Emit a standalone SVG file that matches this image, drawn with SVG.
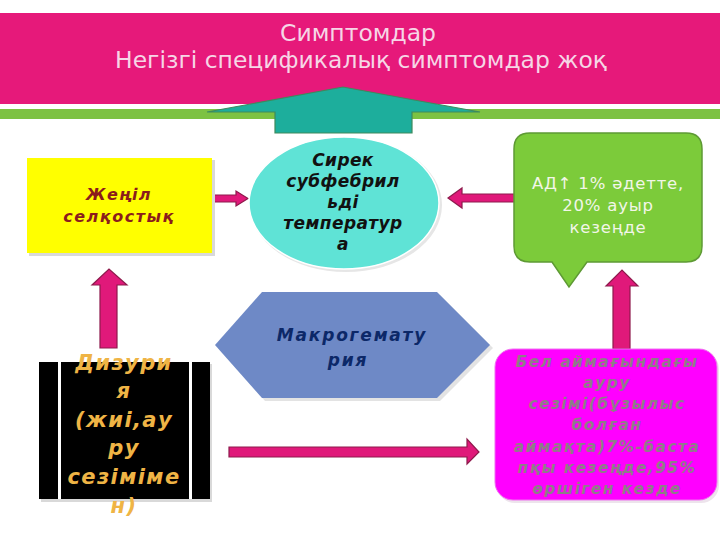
<svg xmlns="http://www.w3.org/2000/svg" width="720" height="540" viewBox="0 0 720 540">
<defs>
<style>
.bi{font-family:"DejaVu Sans","Noto Sans",sans-serif;font-weight:bold;font-style:italic;text-anchor:middle}
.rg{font-family:"DejaVu Sans","Noto Sans",sans-serif;text-anchor:middle}
.parr{fill:#E0197A;stroke:#8E1A4C;stroke-width:1.2}
.shadow{fill:#D9D9D9}
</style>
</defs>
<rect width="720" height="540" fill="#FFFFFF"/>
<g id="banner">
<rect x="0" y="13" width="720" height="91" fill="#E6197A"/>
<rect x="0" y="109" width="720" height="10" fill="#7DC242"/>
<text class="rg" x="358" y="41" font-size="23" fill="#F6D6E6" textLength="156" lengthAdjust="spacingAndGlyphs">Симптомдар</text>
<text class="rg" x="361" y="68" font-size="23" fill="#F6D6E6" textLength="492" lengthAdjust="spacingAndGlyphs">Негізгі спецификалық симптомдар жоқ</text>
</g>
<g id="connectors">
<polygon points="275,133 275,112 207,112 343,87 480,112 412,112 412,133" fill="#1DAE9C" stroke="#3E8A5C" stroke-width="1.2"/>
<polygon class="parr" points="212,195 236,195 236,191 248,198.5 236,206 236,202 212,202"/>
<polygon class="parr" points="515,194 462,194 462,188 448,198 462,208 462,202 515,202"/>
<polygon class="parr" points="100,348 100,285 92,285 109,269 127,285 117,285 117,348"/>
<polygon class="parr" points="613,349 613,286 606,286 622,270 638,286 630,286 630,349"/>
<polygon class="parr" points="229,447 467,447 467,439 479,452 467,464 467,457 229,457"/>
</g>
<g id="node-yellow">
<rect class="shadow" x="29" y="160" width="186" height="96"/>
<rect x="27" y="158" width="185" height="95" fill="#FFFF00"/>
<text class="bi" x="119" y="200" font-size="16" fill="#8B1C1C" letter-spacing="1.5">Жеңіл</text>
<text class="bi" x="119" y="222" font-size="16" fill="#8B1C1C" letter-spacing="1.5">селқостық</text>
</g>
<g id="node-ellipse">
<ellipse cx="346" cy="205" rx="96" ry="67" fill="#E6E6E6"/>
<ellipse cx="344" cy="203" rx="95" ry="66" fill="#5FE3D6" stroke="#FFFFFF" stroke-width="1.5"/>
<text class="bi" x="343" y="166" font-size="17" fill="#111111" letter-spacing="0.4">Сирек</text>
<text class="bi" x="343" y="187" font-size="17" fill="#111111" letter-spacing="0.4">субфебрил</text>
<text class="bi" x="343" y="208" font-size="17" fill="#111111" letter-spacing="0.4">ьді</text>
<text class="bi" x="343" y="229" font-size="17" fill="#111111" letter-spacing="0.4">температур</text>
<text class="bi" x="343" y="250" font-size="17" fill="#111111" letter-spacing="0.4">а</text>
</g>
<g id="node-green">
<path d="M530,133 H686 Q702,133 702,149 V246 Q702,262 686,262 H587 L569,287 L552,262 H530 Q514,262 514,246 V149 Q514,133 530,133 Z" fill="#7CCB3A" stroke="#5E9A34" stroke-width="1.5"/>
<text class="rg" x="608" y="189" font-size="16.5" fill="#F2F6E8" letter-spacing="0.8">АД↑ 1% әдетте,</text>
<text class="rg" x="608" y="211" font-size="16.5" fill="#F2F6E8" letter-spacing="0.8">20% ауыр</text>
<text class="rg" x="608" y="233" font-size="16.5" fill="#F2F6E8" letter-spacing="0.8">кезеңде</text>
</g>
<g id="node-hexagon">
<polygon points="218,348 265,295 440,295 493,348 440,401 265,401" fill="#E3E3E3"/>
<polygon points="215,345 262,292 437,292 490,345 437,398 262,398" fill="#6E89C6"/>
<text class="bi" x="352" y="341" font-size="17" fill="#0C2868" letter-spacing="1.8">Макрогемату</text>
<text class="bi" x="348" y="366" font-size="17" fill="#0C2868" letter-spacing="1.8">рия</text>
</g>
<g id="node-dizuria">
<rect class="shadow" x="41" y="364" width="171" height="138"/>
<rect x="39" y="362" width="171" height="137" fill="#000000"/>
<rect x="58" y="362" width="3" height="137" fill="#FFFFFF"/>
<rect x="189" y="362" width="3" height="137" fill="#FFFFFF"/>
<text class="bi" x="124" y="370" font-size="21" fill="#EFB445" letter-spacing="1.4">Дизури</text>
<text class="bi" x="124" y="398" font-size="21" fill="#EFB445" letter-spacing="1.4">я</text>
<text class="bi" x="124" y="427" font-size="21" fill="#EFB445" letter-spacing="1.4">(жиі,ау</text>
<text class="bi" x="124" y="455" font-size="21" fill="#EFB445" letter-spacing="1.4">ру</text>
<text class="bi" x="124" y="484" font-size="21" fill="#EFB445" letter-spacing="1.4">сезіміме</text>
<text class="bi" x="124" y="513" font-size="21" fill="#EFB445" letter-spacing="1.4">н)</text>
</g>
<g id="node-pink">
<rect x="497" y="351" width="222" height="152" rx="18" fill="#EDE4EC"/>
<rect x="495" y="349" width="222" height="151" rx="18" fill="#FF00FF" stroke="#F070F0" stroke-width="1"/>
<text class="bi" x="607" y="367" font-size="15.5" fill="#8E7C88" letter-spacing="1.4">Бел аймағындағы</text>
<text class="bi" x="607" y="388" font-size="15.5" fill="#8E7C88" letter-spacing="1.4">ауру</text>
<text class="bi" x="607" y="409" font-size="15.5" fill="#8E7C88" letter-spacing="1.4">сезімі(бұзылыс</text>
<text class="bi" x="607" y="430" font-size="15.5" fill="#8E7C88" letter-spacing="1.4">болған</text>
<text class="bi" x="607" y="452" font-size="15.5" fill="#8E7C88" letter-spacing="1.4">аймақта)7%-баста</text>
<text class="bi" x="607" y="473" font-size="15.5" fill="#8E7C88" letter-spacing="1.4">пқы кезеңде,95%</text>
<text class="bi" x="607" y="494" font-size="15.5" fill="#8E7C88" letter-spacing="1.4">өршіген кезде</text>
</g>
</svg>
